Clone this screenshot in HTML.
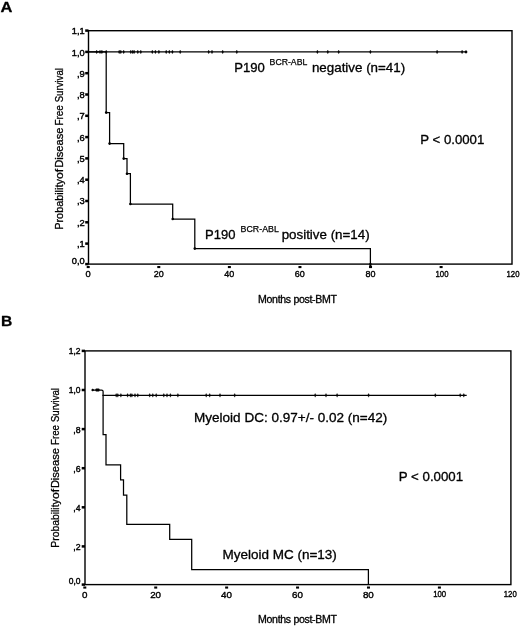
<!DOCTYPE html>
<html><head><meta charset="utf-8"><title>Figure</title>
<style>
html,body{margin:0;padding:0;background:#fff;}
body{width:520px;height:626px;overflow:hidden;font-family:"Liberation Sans",sans-serif;}
svg{display:block;filter:blur(0.35px)}
text{font-family:"Liberation Sans",sans-serif;fill:#000;stroke:#000;stroke-width:0.3px;stroke-linejoin:round}
.tk{font-size:9.1px;stroke-width:0.42px}
.tx{font-size:9.8px;stroke-width:0.4px}
.lb{font-size:13.3px;stroke-width:0.32px}
.sp{font-size:8.7px;stroke-width:0.25px}
.ax{font-size:10px;stroke-width:0.3px}
.ay{font-size:10.8px;stroke-width:0.3px}
.hd{font-size:15px;font-weight:bold}
</style></head><body>
<svg width="520" height="626" viewBox="0 0 520 626">

<g id="chartA">
<rect x="88.5" y="30.7" width="423.5" height="233.40000000000003" fill="none" stroke="#000" stroke-width="1.4"/>
<rect x="85.2" y="262.85" width="3.3" height="2.5" fill="#000"/>
<text class="tk" x="71.8" y="263.9" textLength="12.9" lengthAdjust="spacingAndGlyphs">0,0</text>
<rect x="85.2" y="242.35" width="3.3" height="2.5" fill="#000"/>
<text class="tk" x="76.9" y="246.76" textLength="7.8" lengthAdjust="spacingAndGlyphs">,1</text>
<rect x="85.2" y="221.05" width="3.3" height="2.5" fill="#000"/>
<text class="tk" x="76.9" y="225.52" textLength="7.8" lengthAdjust="spacingAndGlyphs">,2</text>
<rect x="85.2" y="199.75" width="3.3" height="2.5" fill="#000"/>
<text class="tk" x="76.9" y="204.28" textLength="7.8" lengthAdjust="spacingAndGlyphs">,3</text>
<rect x="85.2" y="178.45" width="3.3" height="2.5" fill="#000"/>
<text class="tk" x="76.9" y="183.04" textLength="7.8" lengthAdjust="spacingAndGlyphs">,4</text>
<rect x="85.2" y="157.15" width="3.3" height="2.5" fill="#000"/>
<text class="tk" x="76.9" y="161.8" textLength="7.8" lengthAdjust="spacingAndGlyphs">,5</text>
<rect x="85.2" y="135.85" width="3.3" height="2.5" fill="#000"/>
<text class="tk" x="76.9" y="140.56" textLength="7.8" lengthAdjust="spacingAndGlyphs">,6</text>
<rect x="85.2" y="114.55" width="3.3" height="2.5" fill="#000"/>
<text class="tk" x="76.9" y="119.32" textLength="7.8" lengthAdjust="spacingAndGlyphs">,7</text>
<rect x="85.2" y="93.25" width="3.3" height="2.5" fill="#000"/>
<text class="tk" x="76.9" y="98.08" textLength="7.8" lengthAdjust="spacingAndGlyphs">,8</text>
<rect x="85.2" y="71.95" width="3.3" height="2.5" fill="#000"/>
<text class="tk" x="76.9" y="76.84" textLength="7.8" lengthAdjust="spacingAndGlyphs">,9</text>
<rect x="85.2" y="50.65" width="3.3" height="2.5" fill="#000"/>
<text class="tk" x="71.8" y="55.6" textLength="12.9" lengthAdjust="spacingAndGlyphs">1,0</text>
<rect x="85.2" y="29.35" width="3.3" height="2.5" fill="#000"/>
<text class="tk" x="71.8" y="34.36" textLength="12.9" lengthAdjust="spacingAndGlyphs">1,1</text>
<rect x="86.7" y="266" width="3" height="2.1" fill="#000"/>
<text class="tx" x="85.5" y="276.5" textLength="5.2" lengthAdjust="spacingAndGlyphs">0</text>
<rect x="157.28" y="266" width="3" height="2.1" fill="#000"/>
<text class="tx" x="153.68" y="276.5" textLength="10.0" lengthAdjust="spacingAndGlyphs">20</text>
<rect x="227.87" y="266" width="3" height="2.1" fill="#000"/>
<text class="tx" x="224.27" y="276.5" textLength="10.0" lengthAdjust="spacingAndGlyphs">40</text>
<rect x="298.45" y="266" width="3" height="2.1" fill="#000"/>
<text class="tx" x="294.85" y="276.5" textLength="10.0" lengthAdjust="spacingAndGlyphs">60</text>
<rect x="369.03" y="266" width="3" height="2.1" fill="#000"/>
<text class="tx" x="365.43" y="276.5" textLength="10.0" lengthAdjust="spacingAndGlyphs">80</text>
<rect x="439.62" y="266" width="3" height="2.1" fill="#000"/>
<text class="tx" x="435.52" y="276.5" textLength="13.0" lengthAdjust="spacingAndGlyphs">100</text>
<text class="tx" x="506.5" y="276.5" textLength="13.0" lengthAdjust="spacingAndGlyphs">120</text>
<path d="M88.5 51.9H466.5" stroke="#000" stroke-width="1.25" fill="none"/>
<path d="M96.7 50l0.9 1.9l-0.9 1.9l-0.9 -1.9z" fill="#000" stroke="#000" stroke-width="0.3"/>
<path d="M100 50l0.9 1.9l-0.9 1.9l-0.9 -1.9z" fill="#000" stroke="#000" stroke-width="0.3"/>
<path d="M101.9 50l0.9 1.9l-0.9 1.9l-0.9 -1.9z" fill="#000" stroke="#000" stroke-width="0.3"/>
<path d="M106.2 50l0.9 1.9l-0.9 1.9l-0.9 -1.9z" fill="#000" stroke="#000" stroke-width="0.3"/>
<path d="M119.2 50l0.9 1.9l-0.9 1.9l-0.9 -1.9z" fill="#000" stroke="#000" stroke-width="0.3"/>
<path d="M120.8 50l0.9 1.9l-0.9 1.9l-0.9 -1.9z" fill="#000" stroke="#000" stroke-width="0.3"/>
<path d="M123.7 50l0.9 1.9l-0.9 1.9l-0.9 -1.9z" fill="#000" stroke="#000" stroke-width="0.3"/>
<path d="M130.8 50l0.9 1.9l-0.9 1.9l-0.9 -1.9z" fill="#000" stroke="#000" stroke-width="0.3"/>
<path d="M132.7 50l0.9 1.9l-0.9 1.9l-0.9 -1.9z" fill="#000" stroke="#000" stroke-width="0.3"/>
<path d="M134.1 50l0.9 1.9l-0.9 1.9l-0.9 -1.9z" fill="#000" stroke="#000" stroke-width="0.3"/>
<path d="M137.8 50l0.9 1.9l-0.9 1.9l-0.9 -1.9z" fill="#000" stroke="#000" stroke-width="0.3"/>
<path d="M140.8 50l0.9 1.9l-0.9 1.9l-0.9 -1.9z" fill="#000" stroke="#000" stroke-width="0.3"/>
<path d="M152.3 50l0.9 1.9l-0.9 1.9l-0.9 -1.9z" fill="#000" stroke="#000" stroke-width="0.3"/>
<path d="M155.4 50l0.9 1.9l-0.9 1.9l-0.9 -1.9z" fill="#000" stroke="#000" stroke-width="0.3"/>
<path d="M158.9 50l0.9 1.9l-0.9 1.9l-0.9 -1.9z" fill="#000" stroke="#000" stroke-width="0.3"/>
<path d="M166.2 50l0.9 1.9l-0.9 1.9l-0.9 -1.9z" fill="#000" stroke="#000" stroke-width="0.3"/>
<path d="M169.3 50l0.9 1.9l-0.9 1.9l-0.9 -1.9z" fill="#000" stroke="#000" stroke-width="0.3"/>
<path d="M172.4 50l0.9 1.9l-0.9 1.9l-0.9 -1.9z" fill="#000" stroke="#000" stroke-width="0.3"/>
<path d="M180.2 50l0.9 1.9l-0.9 1.9l-0.9 -1.9z" fill="#000" stroke="#000" stroke-width="0.3"/>
<path d="M208.7 50l0.9 1.9l-0.9 1.9l-0.9 -1.9z" fill="#000" stroke="#000" stroke-width="0.3"/>
<path d="M212 50l0.9 1.9l-0.9 1.9l-0.9 -1.9z" fill="#000" stroke="#000" stroke-width="0.3"/>
<path d="M222.7 50l0.9 1.9l-0.9 1.9l-0.9 -1.9z" fill="#000" stroke="#000" stroke-width="0.3"/>
<path d="M236.8 50l0.9 1.9l-0.9 1.9l-0.9 -1.9z" fill="#000" stroke="#000" stroke-width="0.3"/>
<path d="M317.4 50l0.9 1.9l-0.9 1.9l-0.9 -1.9z" fill="#000" stroke="#000" stroke-width="0.3"/>
<path d="M327.8 50l0.9 1.9l-0.9 1.9l-0.9 -1.9z" fill="#000" stroke="#000" stroke-width="0.3"/>
<path d="M338.7 50l0.9 1.9l-0.9 1.9l-0.9 -1.9z" fill="#000" stroke="#000" stroke-width="0.3"/>
<path d="M370.4 50l0.9 1.9l-0.9 1.9l-0.9 -1.9z" fill="#000" stroke="#000" stroke-width="0.3"/>
<path d="M437.1 50l0.9 1.9l-0.9 1.9l-0.9 -1.9z" fill="#000" stroke="#000" stroke-width="0.3"/>
<path d="M462.1 50l0.9 1.9l-0.9 1.9l-0.9 -1.9z" fill="#000" stroke="#000" stroke-width="0.3"/>
<path d="M464.4 51.9l1.6 -1.8l1.6 1.8l-1.6 1.8z" fill="#000"/>
<path d="M88.5 51.9H106.2V112.6H109.6V143.6H123.7V158.6H127.0V173.7H130.4V204H172.7V219H194.8V248.6H370.4V264.1" stroke="#000" stroke-width="1.25" fill="none" stroke-linejoin="miter"/>
<circle cx="106.2" cy="112.6" r="1.3" fill="#000"/>
<circle cx="109.6" cy="143.6" r="1.3" fill="#000"/>
<circle cx="123.7" cy="158.6" r="1.3" fill="#000"/>
<circle cx="127.0" cy="173.7" r="1.3" fill="#000"/>
<circle cx="130.4" cy="204" r="1.3" fill="#000"/>
<circle cx="172.7" cy="219" r="1.3" fill="#000"/>
<circle cx="194.8" cy="248.6" r="1.3" fill="#000"/>
<path d="M370.4 263.1V266.6" stroke="#000" stroke-width="2.2" fill="none"/>
<text class="lb" x="234.2" y="72" textLength="30.6" lengthAdjust="spacingAndGlyphs">P190</text>
<text class="sp" x="269.6" y="65.1" textLength="37.7" lengthAdjust="spacingAndGlyphs">BCR-ABL</text>
<text class="lb" x="311.9" y="72" textLength="93.3" lengthAdjust="spacingAndGlyphs">negative (n=41)</text>
<text class="lb" x="205" y="238.7" textLength="30.4" lengthAdjust="spacingAndGlyphs">P190</text>
<text class="sp" x="240.6" y="231.9" textLength="38.2" lengthAdjust="spacingAndGlyphs">BCR-ABL</text>
<text class="lb" x="281.7" y="238.6" textLength="87.9" lengthAdjust="spacingAndGlyphs">positive (n=14)</text>
<text class="lb" x="420.3" y="144.3" textLength="64" lengthAdjust="spacingAndGlyphs">P &lt; 0.0001</text>
<text class="ax" transform="translate(258.1,302.8) scale(1.06,1)" textLength="74.4" lengthAdjust="spacing">Months post-BMT</text>
<text class="ay" transform="translate(62.6,229.7) rotate(-90)" textLength="50.5" lengthAdjust="spacingAndGlyphs">Probability</text>
<text class="ay" transform="translate(62.6,179.1) rotate(-90)" textLength="10.2" lengthAdjust="spacingAndGlyphs">of</text>
<text class="ay" transform="translate(62.6,167.8) rotate(-90)" textLength="40.2" lengthAdjust="spacingAndGlyphs">Disease</text>
<text class="ay" transform="translate(62.6,125.6) rotate(-90)" textLength="20.3" lengthAdjust="spacingAndGlyphs">Free</text>
<text class="ay" transform="translate(62.6,102.3) rotate(-90)" textLength="34.2" lengthAdjust="spacingAndGlyphs">Survival</text>
<text class="hd" x="0.5" y="12.1" textLength="11.9" lengthAdjust="spacingAndGlyphs">A</text>
</g>
<g id="chartB">
<rect x="85.0" y="350.9" width="425.9" height="233.7" fill="none" stroke="#000" stroke-width="1.4"/>
<rect x="81.7" y="583.35" width="3.3" height="2.5" fill="#000"/>
<text class="tk" x="68.8" y="584.4" textLength="11.8" lengthAdjust="spacingAndGlyphs">0,0</text>
<rect x="81.7" y="545.15" width="3.3" height="2.5" fill="#000"/>
<text class="tk" x="73.3" y="549.8" textLength="7.3" lengthAdjust="spacingAndGlyphs">,2</text>
<rect x="81.7" y="506.05" width="3.3" height="2.5" fill="#000"/>
<text class="tk" x="73.3" y="510.7" textLength="7.3" lengthAdjust="spacingAndGlyphs">,4</text>
<rect x="81.7" y="466.95" width="3.3" height="2.5" fill="#000"/>
<text class="tk" x="73.3" y="471.6" textLength="7.3" lengthAdjust="spacingAndGlyphs">,6</text>
<rect x="81.7" y="427.85" width="3.3" height="2.5" fill="#000"/>
<text class="tk" x="73.3" y="432.5" textLength="7.3" lengthAdjust="spacingAndGlyphs">,8</text>
<rect x="81.7" y="388.75" width="3.3" height="2.5" fill="#000"/>
<text class="tk" x="68.8" y="393.4" textLength="11.8" lengthAdjust="spacingAndGlyphs">1,0</text>
<rect x="81.7" y="349.65" width="3.3" height="2.5" fill="#000"/>
<text class="tk" x="68.8" y="354.3" textLength="11.8" lengthAdjust="spacingAndGlyphs">1,2</text>
<rect x="83.3" y="586.5" width="3" height="2.1" fill="#000"/>
<text class="tx" x="84.7" y="597.5" text-anchor="middle">0</text>
<rect x="154.22" y="586.5" width="3" height="2.1" fill="#000"/>
<text class="tx" x="155.62" y="597.5" text-anchor="middle">20</text>
<rect x="225.14" y="586.5" width="3" height="2.1" fill="#000"/>
<text class="tx" x="226.54" y="597.5" text-anchor="middle">40</text>
<rect x="296.06" y="586.5" width="3" height="2.1" fill="#000"/>
<text class="tx" x="297.46" y="597.5" text-anchor="middle">60</text>
<rect x="366.98" y="586.5" width="3" height="2.1" fill="#000"/>
<text class="tx" x="368.38" y="597.5" text-anchor="middle">80</text>
<rect x="437.9" y="586.5" width="3" height="2.1" fill="#000"/>
<text class="tx" x="433.2" y="597.35" textLength="13.0" lengthAdjust="spacingAndGlyphs">100</text>
<text class="tx" x="503.72" y="597.35" textLength="13.0" lengthAdjust="spacingAndGlyphs">120</text>
<path d="M102.4 395.3H466.7" stroke="#000" stroke-width="1.25" fill="none"/>
<path d="M92.8 388.5l1.4 1.5l-1.4 1.5l-1.4 -1.5z" fill="#000"/>
<rect x="95.5" y="388.5" width="4" height="3" rx="0.8" fill="#000"/>
<path d="M116.2 393.4l0.9 1.9l-0.9 1.9l-0.9 -1.9z" fill="#000" stroke="#000" stroke-width="0.3"/>
<path d="M117.8 393.4l0.9 1.9l-0.9 1.9l-0.9 -1.9z" fill="#000" stroke="#000" stroke-width="0.3"/>
<path d="M120.9 393.4l0.9 1.9l-0.9 1.9l-0.9 -1.9z" fill="#000" stroke="#000" stroke-width="0.3"/>
<path d="M127.6 393.4l0.9 1.9l-0.9 1.9l-0.9 -1.9z" fill="#000" stroke="#000" stroke-width="0.3"/>
<path d="M130.4 393.4l0.9 1.9l-0.9 1.9l-0.9 -1.9z" fill="#000" stroke="#000" stroke-width="0.3"/>
<path d="M131.9 393.4l0.9 1.9l-0.9 1.9l-0.9 -1.9z" fill="#000" stroke="#000" stroke-width="0.3"/>
<path d="M135 393.4l0.9 1.9l-0.9 1.9l-0.9 -1.9z" fill="#000" stroke="#000" stroke-width="0.3"/>
<path d="M137.8 393.4l0.9 1.9l-0.9 1.9l-0.9 -1.9z" fill="#000" stroke="#000" stroke-width="0.3"/>
<path d="M149.7 393.4l0.9 1.9l-0.9 1.9l-0.9 -1.9z" fill="#000" stroke="#000" stroke-width="0.3"/>
<path d="M152.8 393.4l0.9 1.9l-0.9 1.9l-0.9 -1.9z" fill="#000" stroke="#000" stroke-width="0.3"/>
<path d="M156.2 393.4l0.9 1.9l-0.9 1.9l-0.9 -1.9z" fill="#000" stroke="#000" stroke-width="0.3"/>
<path d="M163.8 393.4l0.9 1.9l-0.9 1.9l-0.9 -1.9z" fill="#000" stroke="#000" stroke-width="0.3"/>
<path d="M167 393.4l0.9 1.9l-0.9 1.9l-0.9 -1.9z" fill="#000" stroke="#000" stroke-width="0.3"/>
<path d="M170.4 393.4l0.9 1.9l-0.9 1.9l-0.9 -1.9z" fill="#000" stroke="#000" stroke-width="0.3"/>
<path d="M177.9 393.4l0.9 1.9l-0.9 1.9l-0.9 -1.9z" fill="#000" stroke="#000" stroke-width="0.3"/>
<path d="M206.2 393.4l0.9 1.9l-0.9 1.9l-0.9 -1.9z" fill="#000" stroke="#000" stroke-width="0.3"/>
<path d="M209.7 393.4l0.9 1.9l-0.9 1.9l-0.9 -1.9z" fill="#000" stroke="#000" stroke-width="0.3"/>
<path d="M220 393.4l0.9 1.9l-0.9 1.9l-0.9 -1.9z" fill="#000" stroke="#000" stroke-width="0.3"/>
<path d="M234.7 393.4l0.9 1.9l-0.9 1.9l-0.9 -1.9z" fill="#000" stroke="#000" stroke-width="0.3"/>
<path d="M315.2 393.4l0.9 1.9l-0.9 1.9l-0.9 -1.9z" fill="#000" stroke="#000" stroke-width="0.3"/>
<path d="M326 393.4l0.9 1.9l-0.9 1.9l-0.9 -1.9z" fill="#000" stroke="#000" stroke-width="0.3"/>
<path d="M337.1 393.4l0.9 1.9l-0.9 1.9l-0.9 -1.9z" fill="#000" stroke="#000" stroke-width="0.3"/>
<path d="M368.6 393.4l0.9 1.9l-0.9 1.9l-0.9 -1.9z" fill="#000" stroke="#000" stroke-width="0.3"/>
<path d="M435.3 393.4l0.9 1.9l-0.9 1.9l-0.9 -1.9z" fill="#000" stroke="#000" stroke-width="0.3"/>
<path d="M460.2 393.4l0.9 1.9l-0.9 1.9l-0.9 -1.9z" fill="#000" stroke="#000" stroke-width="0.3"/>
<path d="M463.8 393.4l0.9 1.9l-0.9 1.9l-0.9 -1.9z" fill="#000" stroke="#000" stroke-width="0.3"/>
<path d="M91.6 390H101.6Q103.1 390 103.1 391.6V434.6H106.0V464.8H120.6V479.8H123.5V495.2H126.8V524.3H169.7V539.4H191.7V569.5H368.4V584.6" stroke="#000" stroke-width="1.25" fill="none"/>
<text class="lb" x="194" y="422.3" textLength="193.3" lengthAdjust="spacingAndGlyphs">Myeloid DC: 0.97+/- 0.02 (n=42)</text>
<text class="lb" x="222.5" y="559.3" textLength="114.3" lengthAdjust="spacingAndGlyphs">Myeloid MC (n=13)</text>
<text class="lb" x="398.8" y="480.7" textLength="64.3" lengthAdjust="spacingAndGlyphs">P &lt; 0.0001</text>
<text class="ax" transform="translate(258.1,622.7) scale(1.06,1)" textLength="74.4" lengthAdjust="spacing">Months post-BMT</text>
<text class="ay" transform="translate(58.8,547.7) rotate(-90)" textLength="48.4" lengthAdjust="spacingAndGlyphs">Probability</text>
<text class="ay" transform="translate(58.8,499.1) rotate(-90)" textLength="10.1" lengthAdjust="spacingAndGlyphs">of</text>
<text class="ay" transform="translate(58.8,488.1) rotate(-90)" textLength="39.9" lengthAdjust="spacingAndGlyphs">Disease</text>
<text class="ay" transform="translate(58.8,445) rotate(-90)" textLength="20" lengthAdjust="spacingAndGlyphs">Free</text>
<text class="ay" transform="translate(58.8,422.1) rotate(-90)" textLength="34.1" lengthAdjust="spacingAndGlyphs">Survival</text>
<text class="hd" x="1.0" y="326.4" textLength="11.3" lengthAdjust="spacingAndGlyphs">B</text>
</g>
</svg></body></html>
